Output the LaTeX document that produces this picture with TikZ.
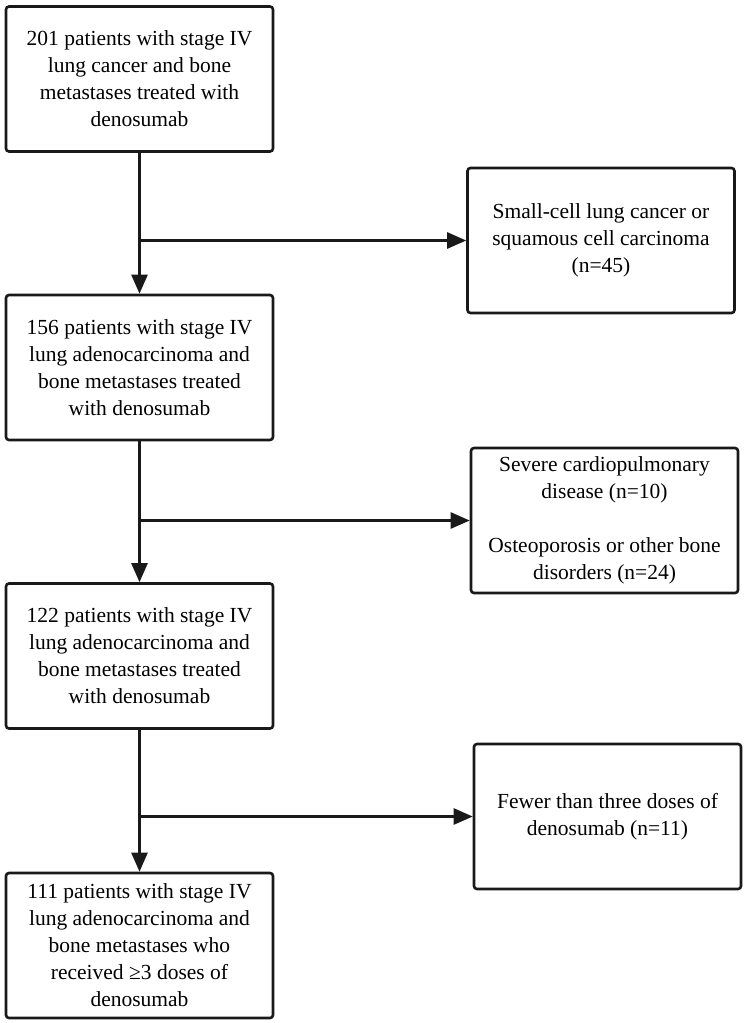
\documentclass[tikz,border=0pt]{standalone}
\usepackage{fontspec}
\setmainfont{Liberation Serif}
\usetikzlibrary{positioning,arrows.meta}

\begin{document}
\begin{tikzpicture}[x=1pt,y=-1pt,
  flowbox/.style={draw=black!90,line width=2.6pt,rounded corners=3pt,
    minimum width=267pt,minimum height=145pt,align=center,inner sep=0pt,
    font=\fontsize{21.5}{27}\selectfont},
  flowarrow/.style={draw=black!90,line width=2.6pt,
    -{Triangle[length=19pt,width=16pt]}}]
\useasboundingbox (0,0) rectangle (749,1023);
% main column of stages, left
\node[flowbox] (stageA) at (139.5,79) {201 patients with stage IV\\lung cancer and bone\\metastases treated with\\denosumab};
\node[flowbox] (stageB) at (139.5,367.5) {156 patients with stage IV\\lung adenocarcinoma and\\bone metastases treated\\with denosumab};
\node[flowbox] (stageC) at (139.5,656) {122 patients with stage IV\\lung adenocarcinoma and\\bone metastases treated\\with denosumab};
\node[flowbox] (stageD) at (139.5,945.5) {111 patients with stage IV\\lung adenocarcinoma and\\bone metastases who\\received ≥3 doses of\\denosumab};
% exclusion boxes, right
\node[flowbox] (exclA) at (601,240.5) {Small-cell lung cancer or\\squamous cell carcinoma\\(n=45)};
\node[flowbox] (exclB) at (604.5,520.5) {Severe cardiopulmonary\\disease (n=10)\\[27pt]Osteoporosis or other bone\\disorders (n=24)};
\node[flowbox] (exclC) at (607.5,816.5) {Fewer than three doses of\\denosumab (n=11)};
% connectors
\foreach \up/\down/\out in {stageA/stageB/exclA,stageB/stageC/exclB,stageC/stageD/exclC}{
  \draw[flowarrow] (\up.south) -- (\down.north);
  \coordinate (branch-\out) at (\up.south |- \out.west);
  \draw[flowarrow] (branch-\out) -- (\out.west);
}
\end{tikzpicture}
\end{document}
